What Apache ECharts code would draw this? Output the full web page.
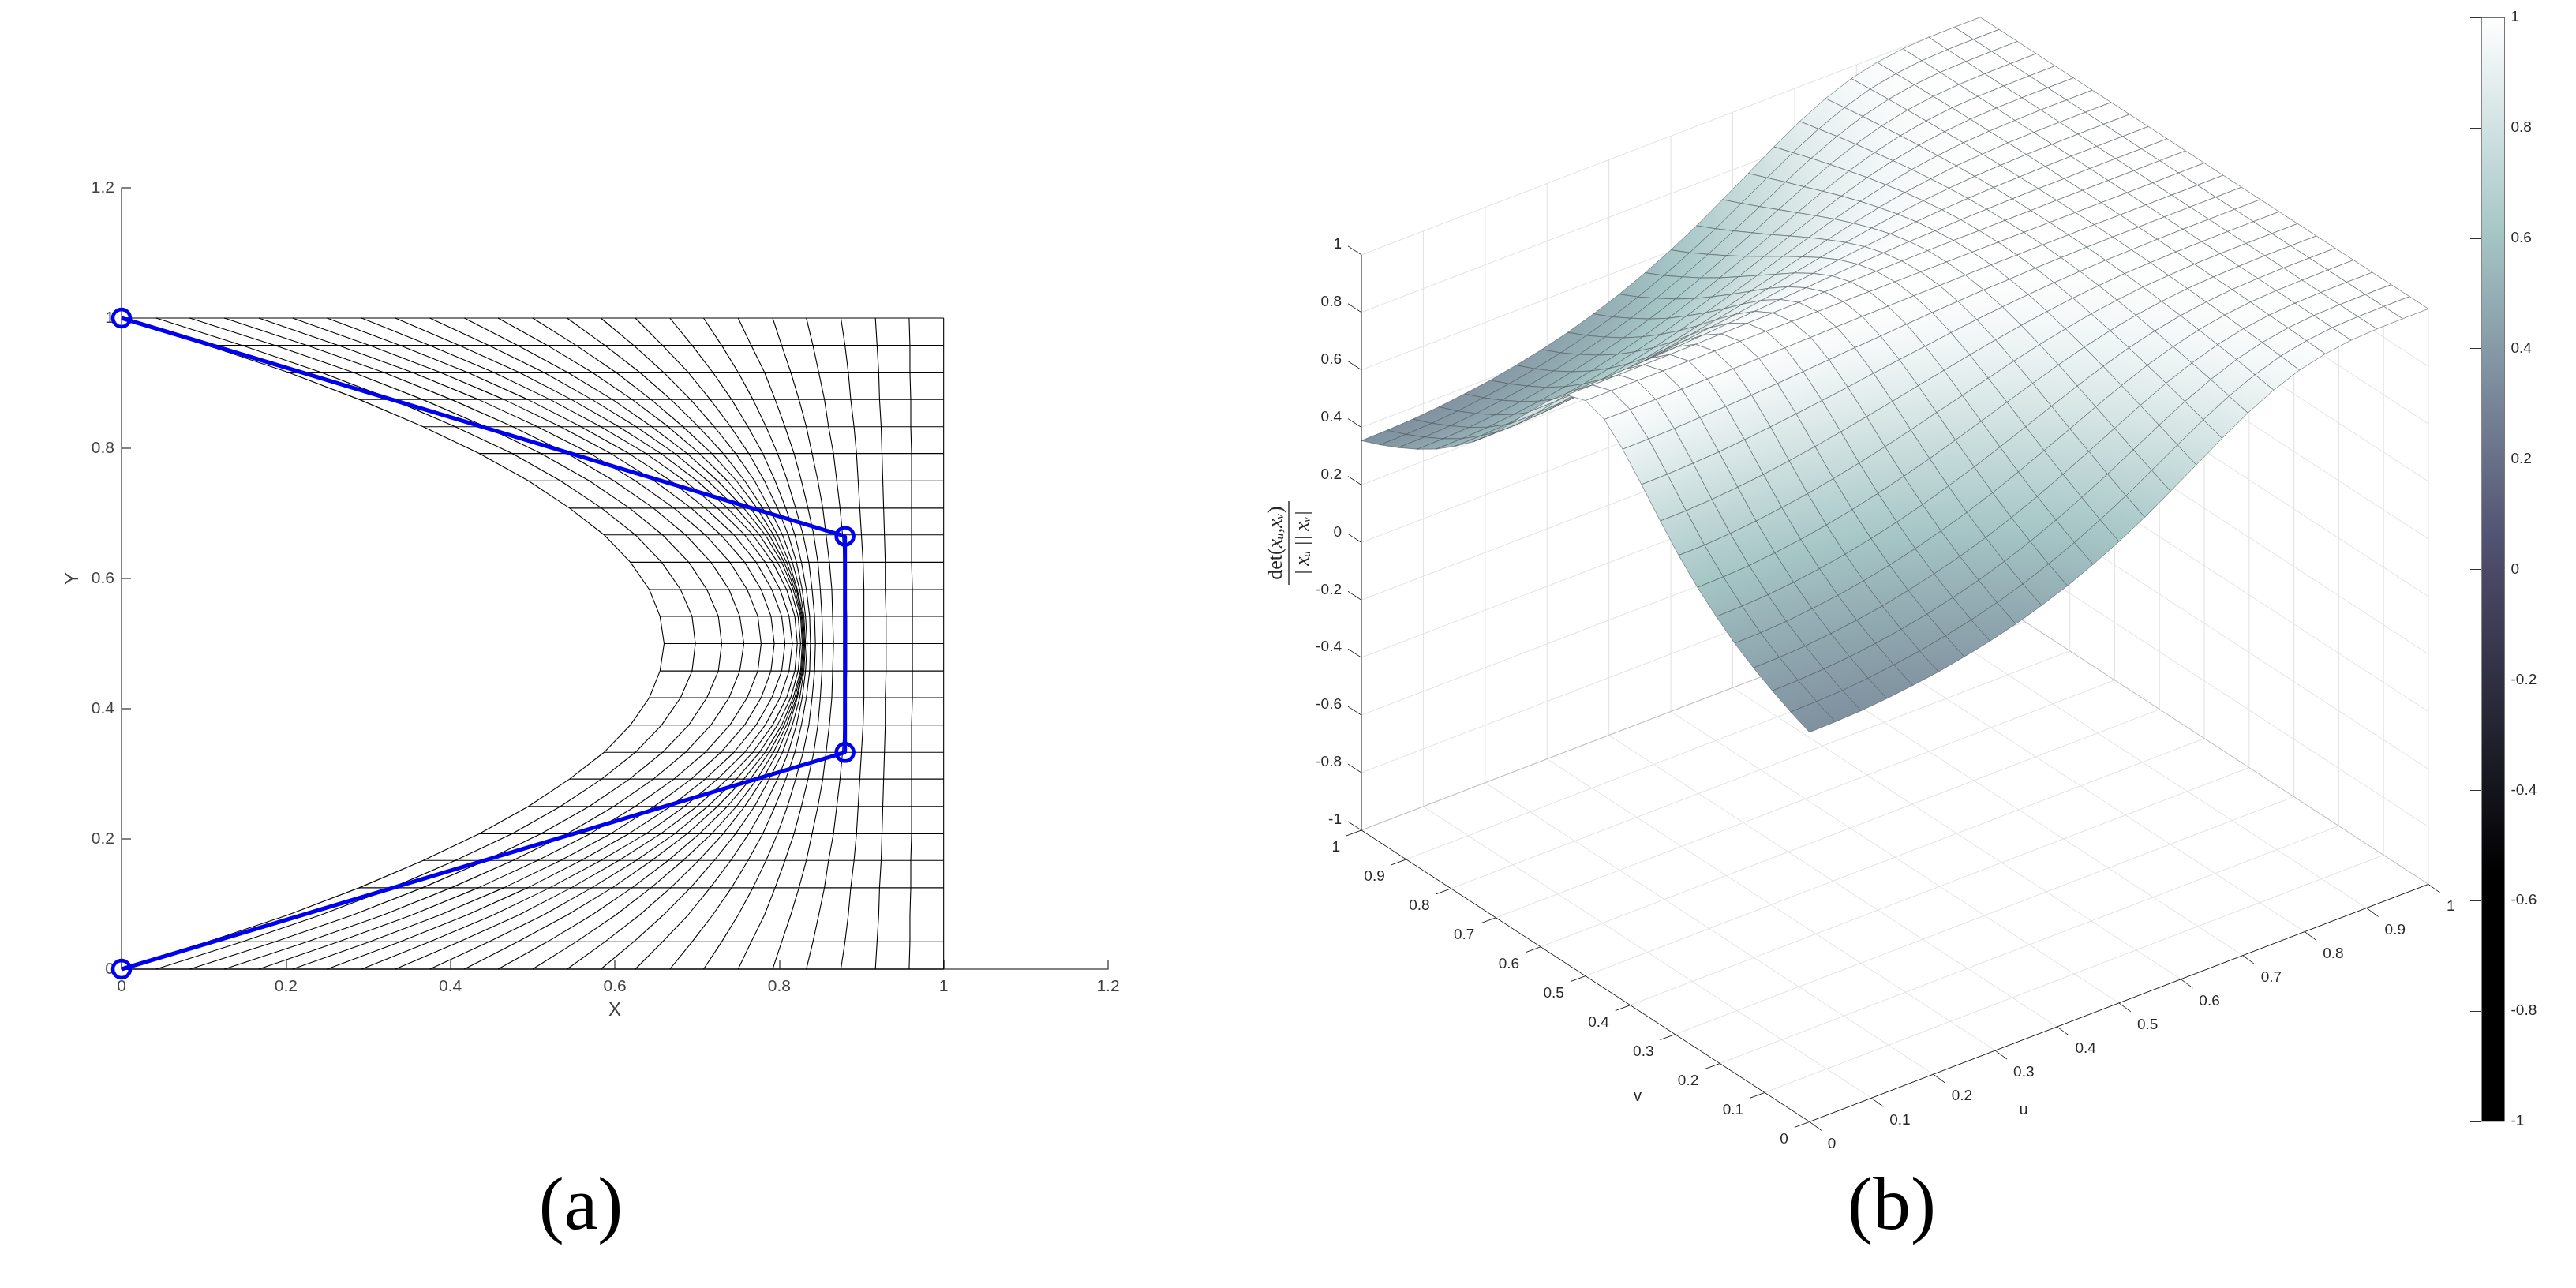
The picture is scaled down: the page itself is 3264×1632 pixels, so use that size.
<!DOCTYPE html>
<html>
<head>
<meta charset="utf-8">
<title>mesh and det surface</title>
<style>
    html, body { margin: 0; padding: 0; background: #fff; }
    #main { width: 3264px; height: 1632px; }
</style>
<script src="https://cdn.jsdelivr.net/npm/echarts@6/dist/echarts.min.js"></script>
</head>
<body>
<div id="main"></div>
<script>
// ---- data ----

var axisTicks2d = [0, 0.2, 0.4, 0.6, 0.8, 1, 1.2];
var controlX = [0, 0.88, 0.88, 0];
var controlY = [1, 0.665, 0.333, 0];

// v of every mesh row
var vValues = [0, 0.042, 0.083, 0.125, 0.167, 0.208, 0.25, 0.292, 0.333, 0.375, 0.417, 0.458, 0.5,
    0.542, 0.583, 0.625, 0.667, 0.708, 0.75, 0.792, 0.833, 0.875, 0.917, 0.958, 1];

// mesh X per row (rows 0..12, the upper half is the mirror), one value per u line
var meshXRows = [
    [0, 0.042, 0.083, 0.125, 0.167, 0.208, 0.25, 0.292, 0.333, 0.375, 0.417, 0.458, 0.5, 0.542, 0.583, 0.625, 0.667, 0.708, 0.75, 0.792, 0.833, 0.875, 0.917, 0.958, 1],
    [0.105, 0.147, 0.187, 0.226, 0.264, 0.302, 0.339, 0.375, 0.411, 0.447, 0.482, 0.518, 0.553, 0.588, 0.623, 0.658, 0.694, 0.73, 0.766, 0.803, 0.841, 0.88, 0.919, 0.959, 1],
    [0.202, 0.242, 0.281, 0.318, 0.353, 0.387, 0.42, 0.452, 0.483, 0.513, 0.542, 0.572, 0.601, 0.63, 0.659, 0.689, 0.719, 0.75, 0.782, 0.814, 0.848, 0.884, 0.921, 0.959, 1],
    [0.289, 0.329, 0.366, 0.401, 0.434, 0.465, 0.494, 0.521, 0.547, 0.572, 0.597, 0.621, 0.644, 0.668, 0.692, 0.716, 0.742, 0.768, 0.795, 0.824, 0.855, 0.887, 0.922, 0.96, 1],
    [0.367, 0.406, 0.443, 0.476, 0.506, 0.534, 0.559, 0.583, 0.605, 0.626, 0.645, 0.665, 0.683, 0.702, 0.721, 0.741, 0.762, 0.784, 0.807, 0.833, 0.86, 0.891, 0.924, 0.96, 1],
    [0.435, 0.475, 0.51, 0.542, 0.57, 0.595, 0.617, 0.638, 0.656, 0.673, 0.688, 0.703, 0.718, 0.732, 0.747, 0.763, 0.78, 0.798, 0.818, 0.84, 0.866, 0.894, 0.925, 0.961, 1],
    [0.495, 0.534, 0.569, 0.599, 0.625, 0.648, 0.668, 0.685, 0.7, 0.713, 0.725, 0.737, 0.748, 0.758, 0.77, 0.782, 0.795, 0.81, 0.827, 0.847, 0.87, 0.896, 0.926, 0.961, 1],
    [0.545, 0.584, 0.618, 0.647, 0.672, 0.693, 0.71, 0.725, 0.737, 0.748, 0.757, 0.765, 0.773, 0.78, 0.788, 0.798, 0.808, 0.82, 0.835, 0.853, 0.874, 0.898, 0.927, 0.961, 1],
    [0.587, 0.625, 0.658, 0.686, 0.71, 0.729, 0.745, 0.758, 0.768, 0.776, 0.783, 0.788, 0.793, 0.798, 0.804, 0.811, 0.819, 0.829, 0.842, 0.857, 0.877, 0.9, 0.928, 0.961, 1],
    [0.619, 0.657, 0.69, 0.717, 0.74, 0.758, 0.772, 0.783, 0.792, 0.798, 0.803, 0.806, 0.809, 0.812, 0.816, 0.821, 0.827, 0.836, 0.847, 0.861, 0.879, 0.902, 0.929, 0.961, 1],
    [0.642, 0.68, 0.712, 0.739, 0.761, 0.778, 0.791, 0.801, 0.809, 0.814, 0.817, 0.819, 0.821, 0.822, 0.825, 0.828, 0.833, 0.84, 0.85, 0.864, 0.881, 0.903, 0.929, 0.962, 1],
    [0.655, 0.694, 0.726, 0.752, 0.774, 0.79, 0.803, 0.812, 0.819, 0.823, 0.826, 0.827, 0.828, 0.829, 0.83, 0.832, 0.837, 0.843, 0.852, 0.865, 0.882, 0.903, 0.93, 0.962, 1],
    [0.66, 0.698, 0.73, 0.757, 0.778, 0.794, 0.807, 0.816, 0.822, 0.826, 0.828, 0.829, 0.83, 0.831, 0.832, 0.834, 0.838, 0.844, 0.853, 0.866, 0.882, 0.903, 0.93, 0.962, 1]
];

// surface height per v row (rows 0..12, mirrored above), one value per u line
var detRows = [
    [0.354, 0.356, 0.36, 0.368, 0.379, 0.392, 0.41, 0.43, 0.455, 0.485, 0.519, 0.559, 0.604, 0.654, 0.71, 0.767, 0.825, 0.879, 0.924, 0.959, 0.981, 0.994, 0.999, 1, 1],
    [0.382, 0.384, 0.388, 0.396, 0.408, 0.422, 0.44, 0.461, 0.487, 0.517, 0.552, 0.592, 0.637, 0.686, 0.74, 0.794, 0.847, 0.895, 0.935, 0.965, 0.984, 0.995, 0.999, 1, 1],
    [0.414, 0.416, 0.421, 0.429, 0.441, 0.456, 0.474, 0.497, 0.523, 0.554, 0.589, 0.629, 0.673, 0.72, 0.77, 0.821, 0.869, 0.911, 0.946, 0.971, 0.987, 0.996, 0.999, 1, 1],
    [0.451, 0.453, 0.458, 0.467, 0.479, 0.494, 0.514, 0.537, 0.563, 0.594, 0.629, 0.668, 0.711, 0.756, 0.802, 0.847, 0.89, 0.926, 0.955, 0.976, 0.989, 0.996, 0.999, 1, 1],
    [0.494, 0.496, 0.501, 0.511, 0.523, 0.539, 0.559, 0.582, 0.609, 0.639, 0.673, 0.711, 0.751, 0.792, 0.834, 0.874, 0.91, 0.94, 0.964, 0.981, 0.992, 0.997, 0.999, 1, 1],
    [0.545, 0.547, 0.552, 0.561, 0.574, 0.59, 0.61, 0.633, 0.659, 0.689, 0.721, 0.756, 0.792, 0.829, 0.865, 0.899, 0.929, 0.953, 0.972, 0.985, 0.994, 0.998, 1, 1, 1],
    [0.604, 0.606, 0.611, 0.621, 0.633, 0.649, 0.668, 0.69, 0.715, 0.742, 0.772, 0.803, 0.835, 0.866, 0.896, 0.923, 0.946, 0.965, 0.979, 0.989, 0.995, 0.998, 1, 1, 1],
    [0.673, 0.674, 0.68, 0.689, 0.701, 0.715, 0.733, 0.753, 0.775, 0.799, 0.825, 0.85, 0.876, 0.901, 0.924, 0.944, 0.962, 0.975, 0.986, 0.992, 0.997, 0.999, 1, 1, 1],
    [0.751, 0.752, 0.757, 0.765, 0.775, 0.788, 0.803, 0.82, 0.838, 0.857, 0.877, 0.896, 0.915, 0.933, 0.949, 0.963, 0.975, 0.984, 0.991, 0.995, 0.998, 0.999, 1, 1, 1],
    [0.835, 0.836, 0.84, 0.845, 0.853, 0.863, 0.874, 0.886, 0.898, 0.912, 0.925, 0.937, 0.95, 0.961, 0.971, 0.979, 0.986, 0.991, 0.995, 0.997, 0.999, 1, 1, 1, 1],
    [0.915, 0.916, 0.918, 0.922, 0.926, 0.931, 0.937, 0.944, 0.951, 0.958, 0.964, 0.971, 0.977, 0.982, 0.987, 0.99, 0.994, 0.996, 0.998, 0.999, 0.999, 1, 1, 1, 1],
    [0.977, 0.977, 0.978, 0.979, 0.98, 0.981, 0.983, 0.985, 0.987, 0.989, 0.991, 0.992, 0.994, 0.995, 0.997, 0.998, 0.998, 0.999, 0.999, 1, 1, 1, 1, 1, 1],
    [1, 1, 1, 1, 1, 1, 1, 1, 1, 1, 1, 1, 1, 1, 1, 1, 1, 1, 1, 1, 1, 1, 1, 1, 1]
];

var uTicks = [0, 0.1, 0.2, 0.3, 0.4, 0.5, 0.6, 0.7, 0.8, 0.9, 1];
var vTicks = [0, 0.1, 0.2, 0.3, 0.4, 0.5, 0.6, 0.7, 0.8, 0.9, 1];
var zTicks = [-1, -0.8, -0.6, -0.4, -0.2, 0, 0.2, 0.4, 0.6, 0.8, 1];

// colormap
var cmapZ = [-1, -0.55, 0.05, 0.61, 1];
var cmapRgb = [[0, 0, 0], [0, 0, 0], [81, 81, 113], [166, 198, 198], [255, 255, 255]];

// view of the 3d box on the hidden axes (share of the box per data unit)
var viewXu = 0.58, viewXv = -0.42;
var viewYu = 0.2151, viewYv = 0.264, viewYz = 0.2605;

var fontSans = '"Liberation Sans", Arial, sans-serif';
var fontSerif = '"Liberation Serif", "DejaVu Serif", serif';

function rowOf(j) { return Math.min(j, 24 - j); }

function project(api, u, v, z) {
    return api.coord([viewXu * u + viewXv * v, viewYu * u + viewYv * v + viewYz * (z + 1)]);
}

function colorAt(z) {
    var k = 0;
    while (k < cmapZ.length - 2 && z > cmapZ[k + 1]) k++;
    var t = Math.max(0, Math.min(1, (z - cmapZ[k]) / (cmapZ[k + 1] - cmapZ[k])));
    var a = cmapRgb[k], b = cmapRgb[k + 1];
    return 'rgb(' + Math.round(a[0] + (b[0] - a[0]) * t) + ',' + Math.round(a[1] + (b[1] - a[1]) * t) + ',' + Math.round(a[2] + (b[2] - a[2]) * t) + ')';
}

// fill of one cell, gradient along the steepest direction on screen
function cellFill(p, z) {
    var d1x = p[2][0] - p[0][0], d1y = p[2][1] - p[0][1];
    var d2x = p[3][0] - p[1][0], d2y = p[3][1] - p[1][1];
    var dz1 = z[2] - z[0], dz2 = z[3] - z[1];
    var det = d1x * d2y - d1y * d2x;
    var zMin = Math.min.apply(null, z), zMax = Math.max.apply(null, z);
    if (Math.abs(det) < 1e-3 || zMax - zMin < 1e-4) return colorAt((zMin + zMax) / 2);
    var gx = (dz1 * d2y - dz2 * d1y) / det;
    var gy = (d1x * dz2 - d2x * dz1) / det;
    var g2 = gx * gx + gy * gy;
    if (g2 < 1e-12) return colorAt((zMin + zMax) / 2);
    var ax = p[0][0] + gx * (zMin - z[0]) / g2, ay = p[0][1] + gy * (zMin - z[0]) / g2;
    var bx = p[0][0] + gx * (zMax - z[0]) / g2, by = p[0][1] + gy * (zMax - z[0]) / g2;
    return new echarts.graphic.LinearGradient(ax, ay, bx, by, [
        {offset: 0, color: colorAt(zMin)},
        {offset: 0.5, color: colorAt((zMin + zMax) / 2)},
        {offset: 1, color: colorAt(zMax)}
    ], true);
}

// ---- left panel: mesh lines ----
var series = [];
function meshLine(points) {
    series.push({
        type: 'line', xAxisIndex: 0, yAxisIndex: 0, data: points,
        showSymbol: false, silent: true, clip: false, z: 2,
        lineStyle: {color: '#000', width: 1.1}
    });
}
for (var j = 0; j < vValues.length; j++) {
    meshLine([[meshXRows[rowOf(j)][0], vValues[j]], [1, vValues[j]]]);
}
for (var i = 0; i < meshXRows[0].length; i++) {
    var curve = [];
    for (var r = 0; r < vValues.length; r++) curve.push([meshXRows[rowOf(r)][i], vValues[r]]);
    meshLine(curve);
}
// control polygon
series.push({
    type: 'line', xAxisIndex: 0, yAxisIndex: 0, silent: true, clip: false, z: 5,
    data: controlX.map(function (x, k) { return [x, controlY[k]]; }),
    symbol: 'circle', symbolSize: 22, showSymbol: true,
    itemStyle: {color: 'rgba(255,255,255,0)', borderColor: '#0000f0', borderWidth: 4.5},
    lineStyle: {color: '#0000f0', width: 5}
});

// ---- right panel: walls and floor ----
var boxLines = [];
uTicks.forEach(function (u) {
    boxLines.push([u, 0, -1, u, 1, -1]);
    boxLines.push([u, 1, -1, u, 1, 1]);
});
vTicks.forEach(function (v) {
    boxLines.push([0, v, -1, 1, v, -1]);
    boxLines.push([1, v, -1, 1, v, 1]);
});
zTicks.forEach(function (z) {
    boxLines.push([0, 1, z, 1, 1, z]);
    boxLines.push([1, 0, z, 1, 1, z]);
});
function segmentSeries(data, color, width, z) {
    return {
        type: 'custom', xAxisIndex: 1, yAxisIndex: 1, silent: true, z: z, data: data,
        renderItem: function (params, api) {
            var a = project(api, api.value(0), api.value(1), api.value(2));
            var b = project(api, api.value(3), api.value(4), api.value(5));
            return {type: 'line', shape: {x1: a[0], y1: a[1], x2: b[0], y2: b[1]}, style: {stroke: color, lineWidth: width}};
        }
    };
}
series.push(segmentSeries(boxLines, '#e2e2e2', 1, 1));
series.push(segmentSeries([[0, 1, -1, 1, 1, -1], [1, 0, -1, 1, 1, -1]], '#c2c2c2', 1, 1));
series.push(segmentSeries([[0, 1, -1, 0, 1, 1], [0, 0, -1, 0, 1, -1], [0, 0, -1, 1, 0, -1]], '#262626', 1, 4));

// tick marks and labels of one 3d axis
function tickSeries(ticks, axisPoint, dx, dy, lx, ly, align) {
    return {
        type: 'custom', xAxisIndex: 1, yAxisIndex: 1, silent: true, z: 4,
        data: ticks.map(function (t) { return [t]; }),
        renderItem: function (params, api) {
            var t = api.value(0);
            var w = axisPoint(t);
            var p = project(api, w[0], w[1], w[2]);
            return {
                type: 'group',
                children: [
                    {type: 'line', shape: {x1: p[0], y1: p[1], x2: p[0] + dx, y2: p[1] + dy}, style: {stroke: '#262626', lineWidth: 1}},
                    {type: 'text', style: {text: String(t), x: p[0] + lx, y: p[1] + ly, textAlign: align, textVerticalAlign: 'middle', font: '19px ' + fontSans, fill: '#262626'}}
                ]
            };
        }
    };
}
series.push(tickSeries(zTicks, function (t) { return [0, 1, t]; }, -17, -11, -25, -13, 'right'));
series.push(tickSeries(vTicks, function (t) { return [0, t, -1]; }, -19, 7, -27, 22, 'right'));
series.push(tickSeries(uTicks, function (t) { return [t, 0, -1]; }, 15, 11, 23, 28, 'left'));

// surface cells, far corner first so that near cells paint over them
var surfaceCells = [];
for (var cu = 23; cu >= 0; cu--) {
    for (var cv = 23; cv >= 0; cv--) surfaceCells.push([cu, cv]);
}
series.push({
    type: 'custom', xAxisIndex: 1, yAxisIndex: 1, silent: true, z: 3, data: surfaceCells,
    renderItem: function (params, api) {
        var a = api.value(0), b = api.value(1);
        var corners = [[a, b], [a + 1, b], [a + 1, b + 1], [a, b + 1]];
        var zs = corners.map(function (c) { return detRows[rowOf(c[1])][c[0]]; });
        var pts = corners.map(function (c, k) { return project(api, c[0] / 24, vValues[c[1]], zs[k]); });
        return {
            type: 'polygon', shape: {points: pts},
            style: {fill: cellFill(pts, zs), stroke: '#4d595e', lineWidth: 0.6}
        };
    }
});

// colorbar
series.push({
    type: 'custom', xAxisIndex: 2, yAxisIndex: 2, silent: true, z: 2, data: [[0, 1, 1, -1]],
    renderItem: function (params, api) {
        var a = api.coord([api.value(0), api.value(1)]);
        var b = api.coord([api.value(2), api.value(3)]);
        var stops = cmapZ.map(function (z, k) {
            return {offset: (z + 1) / 2, color: colorAt(z)};
        });
        return {
            type: 'group',
            children: [
                {
                    type: 'rect', shape: {x: a[0], y: a[1], width: b[0] - a[0], height: b[1] - a[1]},
                    style: {fill: new echarts.graphic.LinearGradient(0, 1, 0, 0, stops), stroke: '#777', lineWidth: 1}
                },
                {type: 'line', shape: {x1: a[0], y1: a[1], x2: a[0], y2: b[1]}, style: {stroke: '#888', lineWidth: 2}},
                {type: 'line', shape: {x1: a[0], y1: a[1], x2: b[0], y2: a[1]}, style: {stroke: '#222', lineWidth: 1}}
            ]
        };
    }
});

var option = {
    animation: false,
    backgroundColor: '#fff',
    grid: [
        {left: 154, top: 238, width: 1250, height: 990, outerBoundsMode: 'none'},
        {left: 1725, top: 22, width: 1352, height: 1399.4, outerBoundsMode: 'none'},
        {left: 3144, top: 22, width: 29.5, height: 1399, outerBoundsMode: 'none'}
    ],
    xAxis: [
        {
            gridIndex: 0, type: 'value', min: 0, max: 1.2, interval: 0.2,
            name: 'X', nameLocation: 'middle', nameGap: 40, nameTextStyle: {fontSize: 24, color: '#404040', fontFamily: fontSans},
            axisLine: {show: true, lineStyle: {color: '#5a5a5a', width: 1.5}},
            axisTick: {show: true, inside: true, length: 12, lineStyle: {color: '#5a5a5a', width: 1.5}},
            axisLabel: {fontSize: 21, color: '#404040', fontFamily: fontSans, margin: 12, showMinLabel: true, showMaxLabel: true},
            splitLine: {show: false}
        },
        {gridIndex: 1, type: 'value', min: viewXv, max: viewXu, show: false},
        {gridIndex: 2, type: 'value', min: 0, max: 1, show: false}
    ],
    yAxis: [
        {
            gridIndex: 0, type: 'value', min: 0, max: 1.2, interval: 0.2,
            name: 'Y', nameLocation: 'middle', nameGap: 50, nameTextStyle: {fontSize: 24, color: '#404040', fontFamily: fontSans},
            axisLine: {show: true, lineStyle: {color: '#5a5a5a', width: 1.5}},
            axisTick: {show: true, inside: true, length: 12, lineStyle: {color: '#5a5a5a', width: 1.5}},
            axisLabel: {fontSize: 21, color: '#404040', fontFamily: fontSans, margin: 9, showMinLabel: true, showMaxLabel: true},
            splitLine: {show: false}
        },
        {gridIndex: 1, type: 'value', min: 0, max: 1, show: false},
        {
            gridIndex: 2, type: 'value', min: -1, max: 1, interval: 0.2, position: 'right', z: 5,
            axisLine: {show: false},
            axisTick: {show: true, inside: true, length: 14, lineStyle: {color: '#333', width: 1}},
            axisLabel: {fontSize: 19, color: '#262626', fontFamily: fontSans, margin: 8, showMinLabel: true, showMaxLabel: true},
            splitLine: {show: false}
        }
    ],
    graphic: [
        {type: 'text', style: {text: '(a)', x: 736, y: 1532, textAlign: 'center', textVerticalAlign: 'middle', font: '96px ' + fontSerif, fill: '#000'}},
        {type: 'text', style: {text: '(b)', x: 2397, y: 1532, textAlign: 'center', textVerticalAlign: 'middle', font: '96px ' + fontSerif, fill: '#000'}},
        {type: 'text', style: {text: 'v', x: 2075, y: 1389, textAlign: 'center', textVerticalAlign: 'middle', font: '20px ' + fontSans, fill: '#262626'}},
        {type: 'text', style: {text: 'u', x: 2564, y: 1406, textAlign: 'center', textVerticalAlign: 'middle', font: '20px ' + fontSans, fill: '#262626'}},
        // z axis name, a rotated fraction
        {type: 'text', x: 1617, y: 688, rotation: Math.PI / 2, style: {
            text: '{a|det(}{b|xᵤ,xᵥ}{a|)}', textAlign: 'center', textVerticalAlign: 'middle',
            rich: {a: {font: '26px ' + fontSerif, fill: '#262626'}, b: {font: 'italic 26px ' + fontSerif, fill: '#262626'}}
        }},
        {type: 'line', shape: {x1: 1633, y1: 635, x2: 1633, y2: 741}, style: {stroke: '#262626', lineWidth: 1.4}},
        {type: 'text', x: 1651, y: 688, rotation: Math.PI / 2, style: {text: '|\u2009xᵤ\u2009||\u2009xᵥ|', textAlign: 'center', textVerticalAlign: 'middle', font: 'italic 26px ' + fontSerif, fill: '#262626'}}
    ],
    series: series
};

var chart = echarts.init(document.getElementById('main'));
chart.setOption(option);
</script>
</body>
</html>
